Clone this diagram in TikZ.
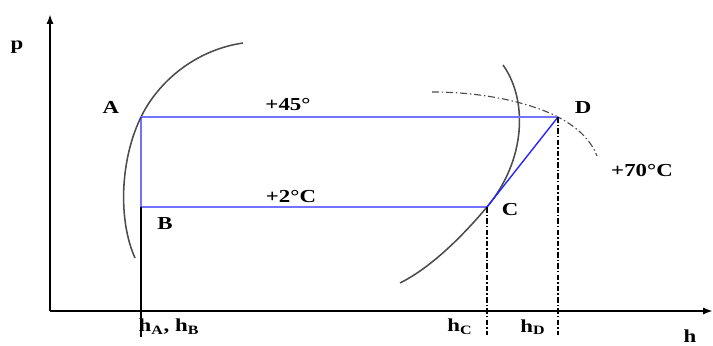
\documentclass[tikz,border=0pt]{standalone}
\usepackage{fontspec}
\setmainfont{Liberation Serif}
\usepackage{tikz}
\usetikzlibrary{arrows.meta}

\begin{document}
\begin{tikzpicture}[x=0.025cm,y=-0.025cm,line width=0.8pt,
    lbl/.style={font=\bfseries\fontsize{13}{15}\selectfont,inner sep=0pt,xscale=1.25,transform shape},
    axis/.style={line width=1.7pt,-{Latex[length=7pt,width=5pt]}},
    cycleline/.style={blue!85,line width=1pt},
    satline/.style={black!70,line width=1.1pt},
    dropline/.style={dash pattern=on 4pt off 1.5pt on 1pt off 1.5pt,line width=1pt}]
  \useasboundingbox (0,0) rectangle (713,345);
  \coordinate (O) at (50,311);
  \coordinate (ytop) at (50,14);
  \coordinate (xend) at (713,311);
  \coordinate (A) at (141,117);
  \coordinate (B) at (141,207);
  \coordinate (C) at (487,207);
  \coordinate (D) at (558,117);
  \coordinate (hAB) at (141,337);
  \coordinate (hCc) at (487,335);
  \coordinate (hDd) at (558,335);
  % axes
  \draw[axis] (O) -- (ytop);
  \draw[axis] (O) -- (xend);
  % saturation curves
  \draw[satline] (135,258) .. controls (118,220) and (120,160) .. (A)
    .. controls (158,82) and (195,50) .. (243,43);
  \draw[satline] (503,65) .. controls (528,100) and (526,160) .. (C)
    .. controls (461,238) and (430,268) .. (400,283);
  \draw[black!70,dash pattern=on 5pt off 2pt on 1pt off 2pt] (432,92)
    .. controls (490,92) and (535,105) .. (D)
    .. controls (581,129) and (592,143) .. (597,156);
  % cycle
  \draw[blue!55,line width=1pt] (A) -- (D);
  \draw[cycleline] (A) -- (B) -- (C) -- (D);
  \draw[line width=1pt] (B) -- (hAB);
  \draw[dropline] (C) -- (hCc);
  \draw[dropline] (D) -- (hDd);
  % labels
  \node[lbl] (p) at (17,47) {p};
  \node[lbl] (lA) at (111,107) {A};
  \node[lbl] (lB) at (165,224) {B};
  \node[lbl] (lC) at (510,210) {C};
  \node[lbl] (lD) at (583,108) {D};
  \node[lbl] (t45) at (288,105) {+45°};
  \node[lbl] (t2) at (291,197) {+2°C};
  \node[lbl] (t70) at (642,171) {+70°C};
  \node[lbl] (hab) at (169,327) {h\textsubscript{A}, h\textsubscript{B}};
  \node[lbl] (hc) at (460,327) {h\textsubscript{C}};
  \node[lbl] (hd) at (533,327) {h\textsubscript{D}};
  \node[lbl] (h) at (690,336) {h};
\end{tikzpicture}
\end{document}
